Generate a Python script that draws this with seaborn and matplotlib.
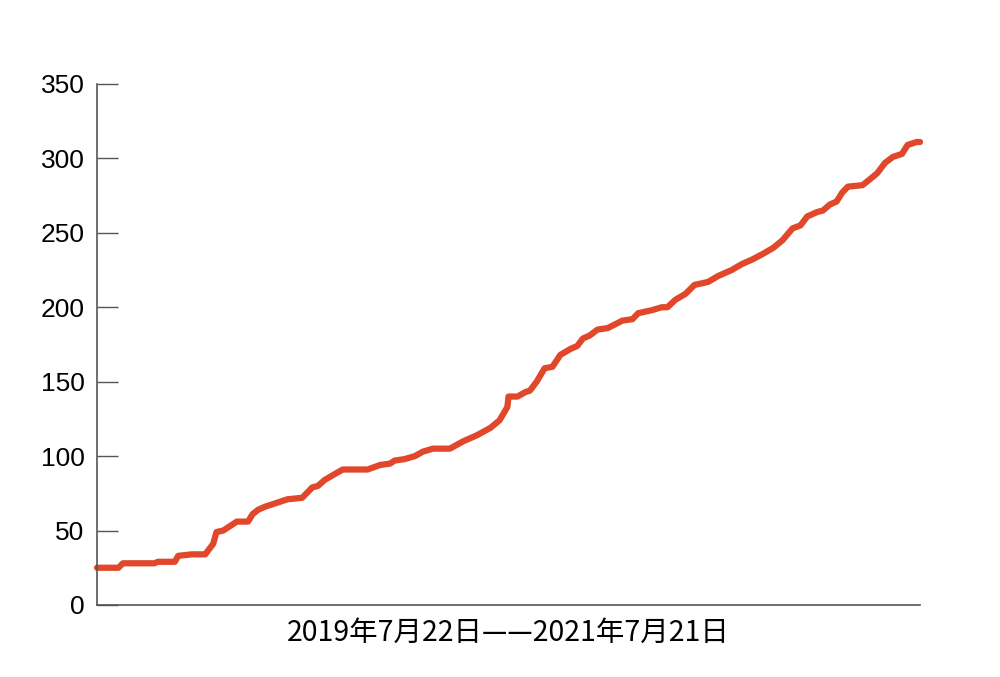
import matplotlib
matplotlib.use("Agg")
import matplotlib.pyplot as plt
import seaborn as sns
import pandas as pd

# Days since 2019-07-22 and cumulative count
days = [0, 19, 23, 51, 54, 69, 72, 84, 96, 103, 106, 112, 118, 124, 134,
        138, 143, 149, 169, 182, 191, 196, 202, 211, 218, 240, 251, 260,
        264, 273, 282, 289, 298, 313, 325, 337, 349, 357, 364, 365, 373,
        380, 384, 390, 397, 404, 411, 420, 426, 431, 437, 444, 453, 466,
        475, 480, 492, 501, 506, 513, 522, 530, 542, 551, 563, 572, 581,
        591, 600, 608, 617, 624, 630, 639, 644, 650, 656, 661, 666, 679,
        684, 692, 699, 706, 714, 719, 727, 730]
counts = [25, 25, 28, 28, 29, 29, 33, 34, 34, 41, 49, 50, 53, 56, 56,
          61, 64, 66, 71, 72, 79, 80, 84, 88, 91, 91, 94, 95,
          97, 98, 100, 103, 105, 105, 110, 114, 119, 124, 133, 140, 140,
          143, 144, 150, 159, 160, 168, 172, 174, 179, 181, 185, 186, 191,
          192, 196, 198, 200, 200, 205, 209, 215, 217, 221, 225, 229, 232,
          236, 240, 245, 253, 255, 261, 264, 265, 269, 271, 277, 281, 282,
          285, 290, 297, 301, 303, 309, 311, 311]

y_ticks = [0, 50, 100, 150, 200, 250, 300, 350]
x_label = "2019年7月22日——2021年7月21日"

df = pd.DataFrame({"day": days, "count": counts})

sns.set_style("white")
plt.rcParams["font.family"] = ["Noto Sans CJK SC", "DejaVu Sans"]

fig = plt.figure(figsize=(10, 6.77), dpi=100)
ax = fig.add_axes([0.097, 0.1064, 0.823, 0.7696])

line_ax = sns.lineplot(data=df, x="day", y="count", ax=ax, color="#e0472b",
                       linewidth=4.5)
for ln in line_ax.lines:
    ln.set_clip_on(False)
    ln.set_solid_capstyle("round")
    ln.set_solid_joinstyle("round")

ax.set_xlim(0, 730)
ax.set_ylim(0, 350)
ax.set_yticks(y_ticks)
ax.set_xticks([])

# Axis styling
for side in ["top", "right"]:
    ax.spines[side].set_visible(False)
for side in ["left", "bottom"]:
    ax.spines[side].set_color("#555555")
    ax.spines[side].set_linewidth(1.2)

ax.tick_params(axis="y", left=True, direction="in", length=15, width=1.0,
               color="#555555", pad=9, labelsize=19, labelcolor="black")
for lbl in ax.get_yticklabels():
    lbl.set_family("Liberation Sans")

ax.set_xlabel(x_label, fontsize=20.5, labelpad=9, color="black")
ax.set_ylabel("")

fig.savefig("out.png", dpi=100)
